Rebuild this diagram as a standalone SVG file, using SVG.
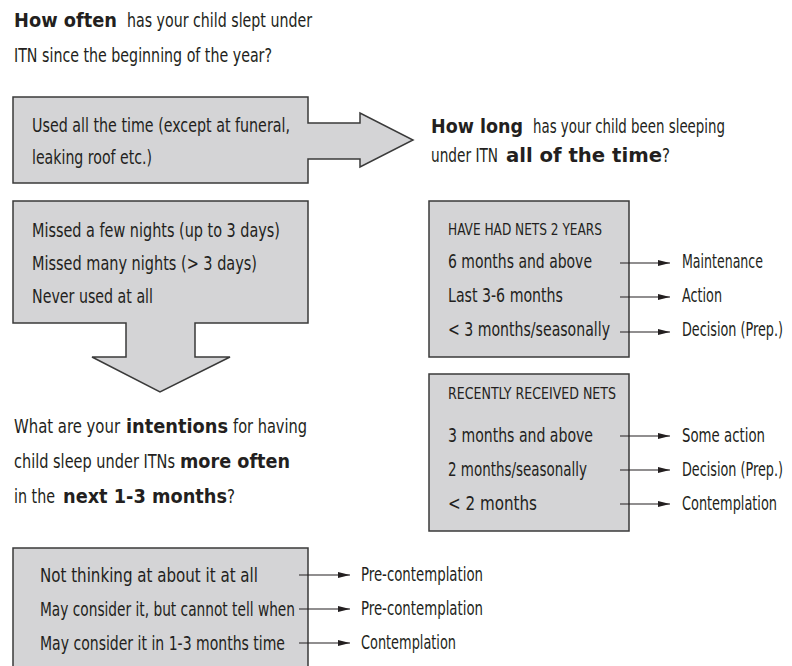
<svg xmlns="http://www.w3.org/2000/svg" width="792" height="666" viewBox="0 0 792 666">
<style>
  text { font-family: "DejaVu Sans Condensed", "DejaVu Sans", "Liberation Sans", sans-serif; font-size: 19px; fill: #231f20; }
  .b { font-weight: bold; }
  .cap { font-size: 16px; }
  .box { fill: #d4d4d6; stroke: #3a3a3a; stroke-width: 1.5; }
  .conn { stroke: #231f20; stroke-width: 1.1; fill: none; marker-end: url(#ah); }
</style>
<defs>
  <marker id="ah" viewBox="0 0 12 6" refX="12" refY="3" markerWidth="12" markerHeight="6" markerUnits="userSpaceOnUse" orient="auto">
    <path d="M0,0 L12,3 L0,6 Z" fill="#231f20"/>
  </marker>
</defs>
<rect width="792" height="666" fill="#ffffff"/>

<g id="q1">
  <text x="14" y="27" class="b" textLength="103" lengthAdjust="spacingAndGlyphs">How often</text>
  <text transform="translate(127,27) scale(0.75,1)" textLength="246.67" lengthAdjust="spacingAndGlyphs">has your child slept under</text>
  <text transform="translate(14,62) scale(0.75,1)" textLength="344" lengthAdjust="spacingAndGlyphs">ITN since the beginning of the year?</text>
</g>

<g id="used-all-time">
  <path class="box" d="M13,97 H308 V123 H360 V113 L413,140 L360,167 V159 H308 V183 H13 Z"/>
  <text transform="translate(32,132) scale(0.75,1)" textLength="344" lengthAdjust="spacingAndGlyphs">Used all the time (except at funeral,</text>
  <text transform="translate(32,164) scale(0.75,1)" textLength="160" lengthAdjust="spacingAndGlyphs">leaking roof etc.)</text>
</g>

<g id="missed">
  <path class="box" d="M13,201 H308 V323 H195 V357 H230 L160,392 L92,357 H126 V323 H13 Z"/>
  <text transform="translate(32,237) scale(0.75,1)" textLength="330.67" lengthAdjust="spacingAndGlyphs">Missed a few nights (up to 3 days)</text>
  <text transform="translate(32,270) scale(0.75,1)" textLength="300" lengthAdjust="spacingAndGlyphs">Missed many nights (&gt; 3 days)</text>
  <text transform="translate(32,303) scale(0.75,1)" textLength="161.33" lengthAdjust="spacingAndGlyphs">Never used at all</text>
</g>

<g id="q2">
  <text x="431" y="133" class="b" textLength="92" lengthAdjust="spacingAndGlyphs">How long</text>
  <text transform="translate(533,133) scale(0.75,1)" textLength="256" lengthAdjust="spacingAndGlyphs">has your child been sleeping</text>
  <text transform="translate(431,162) scale(0.75,1)" textLength="89.33" lengthAdjust="spacingAndGlyphs">under ITN</text>
  <text x="506" y="162" class="b" textLength="156" lengthAdjust="spacingAndGlyphs">all of the time</text>
  <text transform="translate(662,162) scale(0.75,1)" textLength="10.67" lengthAdjust="spacingAndGlyphs">?</text>
</g>

<g id="had-nets-2-years">
  <rect class="box" x="429" y="201" width="200" height="156"/>
  <text transform="translate(448,235) scale(0.75,1)" class="cap" textLength="205.33" lengthAdjust="spacingAndGlyphs">HAVE HAD NETS 2 YEARS</text>
  <text transform="translate(448,268) scale(0.75,1)" textLength="192" lengthAdjust="spacingAndGlyphs">6 months and above</text>
  <text transform="translate(448,302) scale(0.75,1)" textLength="153.33" lengthAdjust="spacingAndGlyphs">Last 3-6 months</text>
  <text transform="translate(448,336) scale(0.75,1)" textLength="216" lengthAdjust="spacingAndGlyphs">&lt; 3 months/seasonally</text>
</g>

<g id="recently-received">
  <rect class="box" x="429" y="374" width="200" height="157"/>
  <text transform="translate(448,399) scale(0.75,1)" class="cap" textLength="224" lengthAdjust="spacingAndGlyphs">RECENTLY RECEIVED NETS</text>
  <text transform="translate(448,442) scale(0.75,1)" textLength="193.33" lengthAdjust="spacingAndGlyphs">3 months and above</text>
  <text transform="translate(448,476) scale(0.75,1)" textLength="185.33" lengthAdjust="spacingAndGlyphs">2 months/seasonally</text>
  <text transform="translate(448,510) scale(0.75,1)" textLength="118.67" lengthAdjust="spacingAndGlyphs">&lt; 2 months</text>
</g>

<g id="stages-right">
  <text transform="translate(682,268) scale(0.75,1)" textLength="108" lengthAdjust="spacingAndGlyphs">Maintenance</text>
  <text transform="translate(682,302) scale(0.75,1)" textLength="53.33" lengthAdjust="spacingAndGlyphs">Action</text>
  <text transform="translate(682,336) scale(0.75,1)" textLength="134.67" lengthAdjust="spacingAndGlyphs">Decision (Prep.)</text>
  <text transform="translate(682,442) scale(0.75,1)" textLength="110.67" lengthAdjust="spacingAndGlyphs">Some action</text>
  <text transform="translate(682,476) scale(0.75,1)" textLength="134.67" lengthAdjust="spacingAndGlyphs">Decision (Prep.)</text>
  <text transform="translate(682,510) scale(0.75,1)" textLength="126.67" lengthAdjust="spacingAndGlyphs">Contemplation</text>
</g>

<g id="q3">
  <text transform="translate(14,433) scale(0.75,1)" textLength="141.33" lengthAdjust="spacingAndGlyphs">What are your</text>
  <text x="126" y="433" class="b" textLength="102" lengthAdjust="spacingAndGlyphs">intentions</text>
  <text transform="translate(233,433) scale(0.75,1)" textLength="98.67" lengthAdjust="spacingAndGlyphs">for having</text>
  <text transform="translate(14,468) scale(0.75,1)" textLength="214.67" lengthAdjust="spacingAndGlyphs">child sleep under ITNs</text>
  <text x="180" y="468" class="b" textLength="110" lengthAdjust="spacingAndGlyphs">more often</text>
  <text transform="translate(14,503) scale(0.75,1)" textLength="54.67" lengthAdjust="spacingAndGlyphs">in the</text>
  <text x="63" y="503" class="b" textLength="164" lengthAdjust="spacingAndGlyphs">next 1-3 months</text>
  <text transform="translate(227,503) scale(0.75,1)" textLength="10.67" lengthAdjust="spacingAndGlyphs">?</text>
</g>

<g id="intentions">
  <rect class="box" x="13" y="548" width="295" height="130"/>
  <text transform="translate(40,582) scale(0.75,1)" textLength="290.67" lengthAdjust="spacingAndGlyphs">Not thinking at about it at all</text>
  <text transform="translate(40,616) scale(0.75,1)" textLength="340" lengthAdjust="spacingAndGlyphs">May consider it, but cannot tell when</text>
  <text transform="translate(40,650) scale(0.75,1)" textLength="326.67" lengthAdjust="spacingAndGlyphs">May consider it in 1-3 months time</text>
</g>

<g id="stages-bottom">
  <text transform="translate(361,581) scale(0.75,1)" textLength="162.67" lengthAdjust="spacingAndGlyphs">Pre-contemplation</text>
  <text transform="translate(361,615) scale(0.75,1)" textLength="162.67" lengthAdjust="spacingAndGlyphs">Pre-contemplation</text>
  <text transform="translate(361,649) scale(0.75,1)" textLength="126.67" lengthAdjust="spacingAndGlyphs">Contemplation</text>
</g>

<g id="connectors">
  <line class="conn" x1="620" y1="263" x2="670" y2="263"/>
  <line class="conn" x1="620" y1="297" x2="670" y2="297"/>
  <line class="conn" x1="620" y1="332" x2="670" y2="332"/>
  <line class="conn" x1="620" y1="436" x2="670" y2="436"/>
  <line class="conn" x1="620" y1="470" x2="670" y2="470"/>
  <line class="conn" x1="620" y1="504" x2="670" y2="504"/>
  <line class="conn" x1="299" y1="575" x2="350" y2="575"/>
  <line class="conn" x1="299" y1="609" x2="350" y2="609"/>
  <line class="conn" x1="299" y1="643" x2="350" y2="643"/>
</g>
</svg>
